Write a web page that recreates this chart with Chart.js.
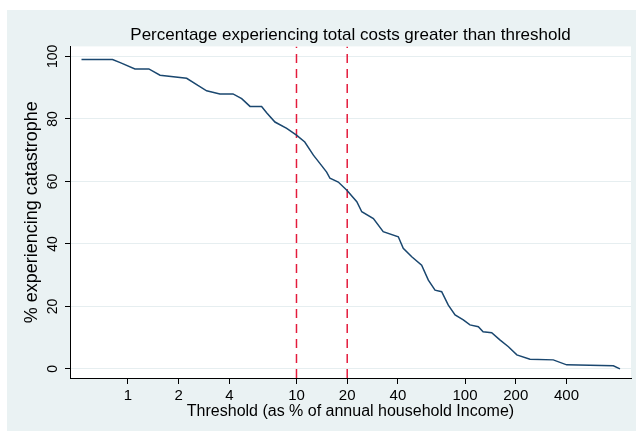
<!DOCTYPE html>
<html lang="en">
<head>
    <meta charset="UTF-8">
    <title>Percentage experiencing total costs greater than threshold</title>
    <script src="https://cdn.jsdelivr.net/npm/chart.js"></script>
    <style>
        body { margin: 0; background: #fff; }
        #wrap { position: relative; width: 636px; height: 431px; }
        #panel { position: absolute; left: 7px; top: 10px; right: 0; bottom: 0; background: #eaf2f3; }
        #chart { position: absolute; left: 0; top: 0; }
    </style>
</head>
<body>
    <div id="wrap">
        <div id="panel"></div>
        <canvas id="chart" width="636" height="431"></canvas>
    </div>

    <script>
        // Threshold (% of annual household income) and % with costs above it
        const thresholds = [0.53, 0.81, 0.90, 1.10, 1.33, 1.55, 2.23, 2.60, 2.93, 3.51, 4.20, 4.73, 5.30, 6.21, 6.65, 7.45, 8.75,
            10.0, 11.2, 12.6, 13.8, 15.1, 15.8, 17.7, 19.9, 22.8, 24.4, 28.6, 32.7, 40.2, 43.0, 48.3, 55.3, 60.6, 66.4,
            72.7, 79.6, 87.3, 97.7, 107, 120, 128, 144, 161, 181, 203, 243, 334, 401, 759, 831];
        const percents = [99, 99, 98, 96, 96, 94, 93, 90.7, 89, 88, 88, 86.5, 84, 84, 82, 79, 77,
            74.8, 72.6, 68.4, 65.7, 63, 61, 59.8, 57.2, 53.5, 50.3, 48.1, 43.9, 42.3, 38.6, 35.9, 33.2, 28.4, 25.2,
            24.7, 20.4, 17.3, 15.7, 14.1, 13.5, 11.9, 11.6, 9.3, 7.1, 4.5, 3.1, 2.9, 1.3, 1.0, 0];

        const refThresholds = [10, 20];
        const xTicks = [1, 2, 4, 10, 20, 40, 100, 200, 400];
        const yTicks = [0, 20, 40, 60, 80, 100];
        const xMin = 0.453, xMax = 966;
        const yMin = -2.9, yMax = 103.2;

        const FONT = "'Liberation Sans', Arial, sans-serif";

        // white plot region
        const plotBg = {
            id: "plotBg",
            beforeDraw(chart) {
                const a = chart.chartArea;
                chart.ctx.save();
                chart.ctx.fillStyle = "#ffffff";
                chart.ctx.fillRect(a.left, a.top, a.right - a.left, a.bottom - a.top);
                chart.ctx.restore();
            }
        };

        const datasets = [{
            data: thresholds.map((t, i) => ({ x: t, y: percents[i] })),
            borderColor: "#1a476f",
            borderWidth: 1.5,
            pointRadius: 0,
            tension: 0,
            order: 0
        }];
        refThresholds.forEach(t => {
            datasets.push({
                data: [{ x: t, y: yMin }, { x: t, y: yMax }],
                borderColor: "#e41b3c",
                borderWidth: 1.5,
                borderDash: [9, 6],
                pointRadius: 0,
                order: 1
            });
        });

        new Chart(document.getElementById("chart"), {
            type: "line",
            data: { datasets },
            plugins: [plotBg],
            options: {
                responsive: false,
                animation: false,
                layout: { padding: { left: 0, right: 5, top: 19, bottom: 0 } },
                plugins: {
                    legend: { display: false },
                    tooltip: { enabled: false },
                    title: {
                        display: true,
                        fullSize: false,
                        text: "Percentage experiencing total costs greater than threshold",
                        color: "#000",
                        font: { family: FONT, size: 17, weight: "normal" },
                        padding: { top: 6, bottom: 1 }
                    }
                },
                scales: {
                    x: {
                        type: "logarithmic",
                        min: xMin,
                        max: xMax,
                        afterBuildTicks: s => { s.ticks = xTicks.map(v => ({ value: v })); },
                        afterFit: s => { s.height = 53; },
                        border: { color: "#000", width: 1 },
                        grid: { drawOnChartArea: false, tickLength: 6, tickColor: "#000" },
                        ticks: {
                            color: "#000",
                            padding: 3,
                            maxRotation: 0,
                            autoSkip: false,
                            font: { family: FONT, size: 15 },
                            callback: v => String(v)
                        },
                        title: {
                            display: true,
                            text: "Threshold (as % of annual household Income)",
                            color: "#000",
                            font: { family: FONT, size: 16 },
                            padding: { top: 0, bottom: 10 }
                        }
                    },
                    y: {
                        min: yMin,
                        max: yMax,
                        afterBuildTicks: s => { s.ticks = yTicks.map(v => ({ value: v })); },
                        afterFit: s => { s.width = 70; },
                        border: { color: "#000", width: 1 },
                        grid: { color: "#e6eef0", lineWidth: 1, tickLength: 5, tickColor: "#000" },
                        ticks: {
                            color: "#000",
                            padding: 0,
                            minRotation: 90,
                            maxRotation: 90,
                            crossAlign: "center",
                            font: { family: FONT, size: 14 },
                            callback: v => String(v)
                        },
                        title: {
                            display: true,
                            text: "% experiencing catastrophe",
                            color: "#000",
                            font: { family: FONT, size: 18 },
                            padding: { top: 21, bottom: 0 }
                        }
                    }
                }
            }
        });
    </script>
</body>
</html>
